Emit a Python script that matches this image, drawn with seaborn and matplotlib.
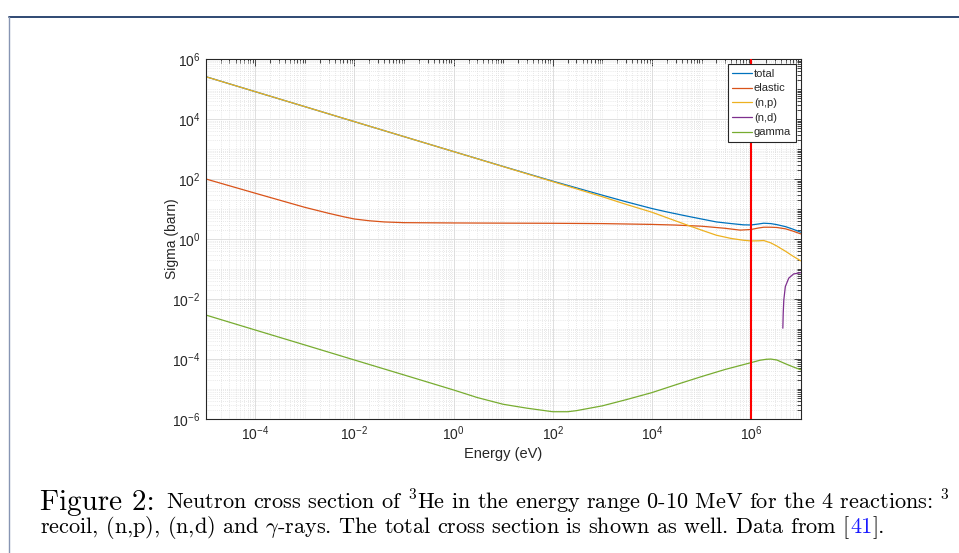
import numpy as np
import pandas as pd
import matplotlib
matplotlib.use("Agg")
import matplotlib.pyplot as plt
from matplotlib.lines import Line2D
from matplotlib.ticker import FixedLocator, FixedFormatter, LogLocator, NullFormatter
import seaborn as sns

# ---- cross-section data (energy in eV, sigma in barn) ----
E_total = [1e-5, 1e-4, 1e-3, 1e-2, 1e-1, 1, 10, 100, 1e3, 3e3, 1e4, 2e4, 5e4, 1e5,
           2e5, 4e5, 7e5, 1e6, 1.4e6, 1.8e6, 2.5e6, 3.3e6, 5e6, 7e6, 1e7]
sigma_total = [2.64e5, 8.3e4, 2.63e4, 8.3e3, 2.63e3, 835, 266, 86, 29.3, 17.7, 10.5, 8.1,
               5.9, 4.7, 3.75, 3.3, 3.0, 2.97, 3.2, 3.4, 3.3, 3.05, 2.6, 2.15, 1.7]

E_elastic = [1e-5, 1e-4, 1e-3, 3e-3, 6e-3, 1e-2, 2e-2, 4e-2, 0.1, 1, 10, 100, 1e3, 1e4,
             3e4, 1e5, 3e5, 6e5, 1e6, 1.4e6, 1.8e6, 2.5e6, 3.3e6, 5e6, 7e6, 1e7]
sigma_elastic = [102, 34, 11.5, 7.3, 5.6, 4.7, 4.1, 3.75, 3.55, 3.47, 3.42, 3.38, 3.3,
                 3.1, 2.95, 2.7, 2.3, 2.0, 2.1, 2.35, 2.5, 2.5, 2.45, 2.2, 1.85, 1.5]

E_np = [1e-5, 1e-4, 1e-3, 1e-2, 0.1, 1, 10, 100, 1e3, 3e3, 1e4, 2e4, 5e4, 1e5,
        2e5, 4e5, 7e5, 1e6, 1.4e6, 1.8e6, 2.5e6, 3.3e6, 5e6, 7e6, 1e7]
sigma_np = [2.63e5, 8.3e4, 2.63e4, 8.3e3, 2.63e3, 832, 263, 83, 26, 14.5, 7.9, 5.2,
            3.0, 2.0, 1.35, 1.05, 0.92, 0.87, 0.88, 0.9, 0.75, 0.59, 0.39, 0.27, 0.19]

E_nd = [4.37e6, 4.45e6, 4.57e6, 4.9e6, 5.75e6, 7.2e6, 1e7]
sigma_nd = [1.07e-3, 3.5e-3, 9.3e-3, 2.6e-2, 5.0e-2, 6.9e-2, 7.6e-2]

E_gamma = [1e-5, 1e-4, 1e-3, 1e-2, 0.1, 1, 3, 10, 30, 100, 200, 300, 1e3, 3e3, 1e4,
           3e4, 1e5, 3e5, 1e6, 1.5e6, 2e6, 2.5e6, 3.3e6, 5e6, 7e6, 1e7]
sigma_gamma = [2.95e-3, 9.3e-4, 2.95e-4, 9.3e-5, 2.95e-5, 9.3e-6, 5.2e-6, 3.1e-6, 2.3e-6,
               1.75e-6, 1.75e-6, 1.9e-6, 2.75e-6, 4.4e-6, 7.6e-6, 1.38e-5, 2.6e-5,
               4.5e-5, 7.6e-5, 9.1e-5, 9.8e-5, 1.0e-4, 9.3e-5, 6.9e-5, 5.5e-5, 4.4e-5]

reactions = ["total", "elastic", "(n,p)", "(n,d)", "gamma"]
colors = ["#0072BD", "#D95319", "#EDB120", "#7E2F8E", "#77AC30"]

xticks = [1e-4, 1e-2, 1e0, 1e2, 1e4, 1e6]
xtick_labels = [r"$\mathdefault{10^{-4}}$", r"$\mathdefault{10^{-2}}$", r"$\mathdefault{10^{0}}$",
                r"$\mathdefault{10^{2}}$", r"$\mathdefault{10^{4}}$", r"$\mathdefault{10^{6}}$"]
yticks = [1e-6, 1e-4, 1e-2, 1e0, 1e2, 1e4, 1e6]
ytick_labels = [r"$\mathdefault{10^{-6}}$", r"$\mathdefault{10^{-4}}$", r"$\mathdefault{10^{-2}}$",
                r"$\mathdefault{10^{0}}$", r"$\mathdefault{10^{2}}$", r"$\mathdefault{10^{4}}$",
                r"$\mathdefault{10^{6}}$"]

frames = []
for name, e, s in [("total", E_total, sigma_total), ("elastic", E_elastic, sigma_elastic),
                   ("(n,p)", E_np, sigma_np), ("(n,d)", E_nd, sigma_nd),
                   ("gamma", E_gamma, sigma_gamma)]:
    frames.append(pd.DataFrame({"energy": e, "sigma": s, "reaction": name}))
df = pd.concat(frames, ignore_index=True)

sns.set_theme(style="white")
plt.rcParams["font.family"] = ["Liberation Sans", "DejaVu Sans"]
plt.rcParams["mathtext.fontset"] = "cm"

INK = "#262626"
fig = plt.figure(figsize=(9.59, 5.53), dpi=100)
fig.patch.set_facecolor("white")
ax = fig.add_axes([0.2145, 0.2423, 0.6204, 0.6505])

sns.lineplot(data=df, x="energy", y="sigma", hue="reaction", hue_order=reactions,
             palette=colors, estimator=None, sort=True, linewidth=0.9, ax=ax)
ax.axvline(1e6, color="#FF0000", linewidth=1.5, zorder=3)

ax.set_xscale("log")
ax.set_yscale("log")
ax.set_xlim(1e-5, 1e7)
ax.set_ylim(1e-6, 1e6)

ax.xaxis.set_major_locator(FixedLocator(xticks))
ax.xaxis.set_major_formatter(FixedFormatter(xtick_labels))
ax.yaxis.set_major_locator(FixedLocator(yticks))
ax.yaxis.set_major_formatter(FixedFormatter(ytick_labels))
for axis in (ax.xaxis, ax.yaxis):
    axis.set_minor_locator(LogLocator(base=10, subs=np.arange(1, 10), numticks=200))
    axis.set_minor_formatter(NullFormatter())

ax.tick_params(which="both", direction="in", top=True, right=True, color=INK,
               labelcolor=INK, labelsize=10, width=0.6)
ax.tick_params(which="major", length=5, pad=4)
ax.tick_params(which="minor", length=2.6)

ax.set_axisbelow(True)
ax.grid(True, which="major", color="#dedede", linewidth=0.7, linestyle="-")
ax.grid(True, which="minor", color="#d4d4d4", linewidth=0.5, linestyle=(0, (1, 2)))
for sp in ax.spines.values():
    sp.set_visible(True)
    sp.set_color(INK)
    sp.set_linewidth(0.8)

ax.set_xlabel("Energy (eV)", fontsize=10.5, color=INK)
ax.set_ylabel("Sigma (barn)", fontsize=10, color=INK)
ax.xaxis.set_label_coords(0.5, -0.078)
ax.yaxis.set_label_coords(-0.045, 0.5)

handles, labels = ax.get_legend_handles_labels()
leg = ax.legend(handles, labels, loc="upper right", fontsize=8, frameon=True,
                fancybox=False, edgecolor=INK, framealpha=1, borderpad=0.4,
                labelspacing=0.42, handlelength=1.8, handletextpad=0.15,
                borderaxespad=0.45)
leg.get_frame().set_linewidth(0.8)
for t in leg.get_texts():
    t.set_color(INK)

# page frame
fig.add_artist(Line2D([9 / 959, 1.0], [1 - 16.5 / 553] * 2, transform=fig.transFigure,
                      color="#1f3a68", linewidth=1.3))
fig.add_artist(Line2D([9 / 959] * 2, [0.0, 1 - 16.5 / 553], transform=fig.transFigure,
                      color="#8795b3", linewidth=1.0))

# caption
cap_font = "cmr10"
y1 = 1 - 510 / 553
y2 = 1 - 533 / 553
x0 = 40 / 959
body = 16.0
t1 = fig.text(x0, y1, "Figure 2:", family=cap_font, fontsize=21, va="baseline", color="black")
fig.canvas.draw()
r = fig.canvas.get_renderer()
bb = t1.get_window_extent(r)
xa = bb.x1 / fig.bbox.width + 11 / 959
fig.text(xa, y1, r"Neutron cross section of $^3$He in the energy range 0-10 MeV for the 4 reactions: $^3$",
         family=cap_font, fontsize=body, va="baseline", color="black")
t3 = fig.text(x0, y2, r"recoil, (n,p), (n,d) and $\gamma$-rays. The total cross section is shown as well. Data from [",
              family=cap_font, fontsize=body, va="baseline", color="black")
bb = t3.get_window_extent(r)
t4 = fig.text(bb.x1 / fig.bbox.width, y2, "41", family=cap_font, fontsize=body,
              va="baseline", color="#1a1aff")
fig.canvas.draw()
bb = t4.get_window_extent(r)
fig.text(bb.x1 / fig.bbox.width, y2, "].", family=cap_font, fontsize=body,
         va="baseline", color="black")

fig.savefig("out.png", dpi=100, facecolor="white")
